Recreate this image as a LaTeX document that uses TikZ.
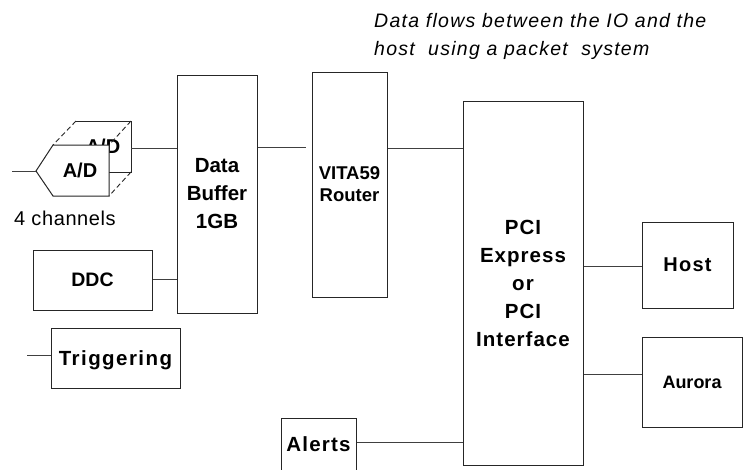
\documentclass[tikz,border=0pt]{standalone}
\usepackage{fontspec}
\setmainfont{Liberation Sans}
\begin{document}
\begin{tikzpicture}[x=1pt,y=-1pt,
  box/.style={draw=black!85, line width=1pt, fill=white, inner sep=0pt, align=center},
  lab/.style={font=\fontsize{20.5}{28}\selectfont\bfseries},
  wire/.style={draw=black!75, line width=1pt},
  hid/.style={draw=black!85, line width=0.9pt, dash pattern=on 5pt off 3pt}]
\useasboundingbox (0,0) rectangle (744,469);
\clip (0,0) rectangle (744,469);

% note
\node[anchor=base west, inner sep=0pt, font=\fontsize{19.5}{28}\selectfont\itshape\addfontfeatures{LetterSpace=6.5}] (note1) at (374,27) {Data flows between the IO and the};
\node[anchor=base west, inner sep=0pt, font=\fontsize{19.5}{28}\selectfont\itshape\addfontfeatures{LetterSpace=6.5}] (note2) at (374,55) {host\ \ using a packet\ \ system};

% boxes
\node[box, lab, minimum width=80pt, minimum height=238pt] (buf) at (217,194) {Data\\Buffer\\1GB};
\node[box, font=\fontsize{18.5}{22}\selectfont\bfseries, minimum width=75pt, minimum height=225pt] (rt) at (349.5,184.5) {VITA59\\Router};
\node[box, font=\fontsize{20.5}{28}\selectfont\bfseries\addfontfeatures{LetterSpace=5}, minimum width=120pt, minimum height=364pt] (pci) at (523,283) {PCI\\Express\\or\\PCI\\Interface};
\node[box, font=\fontsize{20}{28}\selectfont\bfseries\addfontfeatures{LetterSpace=6}, minimum width=91pt, minimum height=86pt] (host) at (687.5,265) {Host};
\node[box, font=\fontsize{18}{22}\selectfont\bfseries, minimum width=100pt, minimum height=90pt] (aur) at (692,382) {Aurora};
\node[box, font=\fontsize{19.5}{22}\selectfont\bfseries, minimum width=119pt, minimum height=60pt] (ddc) at (92.5,280) {DDC};
\node[box, font=\fontsize{20.5}{22}\selectfont\bfseries\addfontfeatures{LetterSpace=7}, minimum width=129pt, minimum height=60pt, text depth=0pt] (trig) at (115.5,358) {Triggering};
\node[box, font=\fontsize{20.5}{22}\selectfont\bfseries\addfontfeatures{LetterSpace=6}, minimum width=75pt, minimum height=53pt] (alerts) at (318.5,444.5) {Alerts};

% A/D stacked shape
\fill[white] (59,147) -- (76,121) -- (131,121) -- (131,172) -- (76,172) -- cycle;
\node[font=\fontsize{20}{22}\selectfont\bfseries, inner sep=0pt] (adback) at (103,146) {A/D};
\draw[draw=black!85, line width=1pt] (76,121) -- (131,121) -- (131,172) -- (100,172);
\draw[hid] (76,121) -- (53,145);
\draw[hid] (131,121) -- (109,145);
\draw[hid] (131,172) -- (109,196);
\draw[draw=black!85, line width=1pt, fill=white] (36,171) -- (53,145) -- (109,145) -- (109,196) -- (53,196) -- cycle;
\node[font=\fontsize{20}{22}\selectfont\bfseries, inner sep=0pt] (adfront) at (80,170) {A/D};
\coordinate (adtip) at (36,171);
\coordinate (adin) at (12,171);
\coordinate (adout) at (131,148);
\coordinate (trin) at (27,355);

\node[anchor=west, inner sep=0pt, font=\fontsize{20}{22}\selectfont\addfontfeatures{LetterSpace=3}] (chan) at (14,218) {4 channels};

% wires
\draw[wire] (adin) -- (adtip);
\draw[wire] (adout) -- (buf.west |- adout);
\draw[wire] (ddc.east |- 0,279) -- (buf.west |- 0,279);
\draw[wire] (trin) -- (trig.west |- trin);
\draw[wire, shorten >=6pt] (buf.east |- 0,147) -- (rt.west |- 0,147);
\draw[wire] (rt.east |- 0,148) -- (pci.west |- 0,148);
\draw[wire] (pci.east |- 0,266) -- (host.west |- 0,266);
\draw[wire] (pci.east |- 0,374) -- (aur.west |- 0,374);
\draw[wire] (alerts.east |- 0,442) -- (pci.west |- 0,442);
\end{tikzpicture}
\end{document}
